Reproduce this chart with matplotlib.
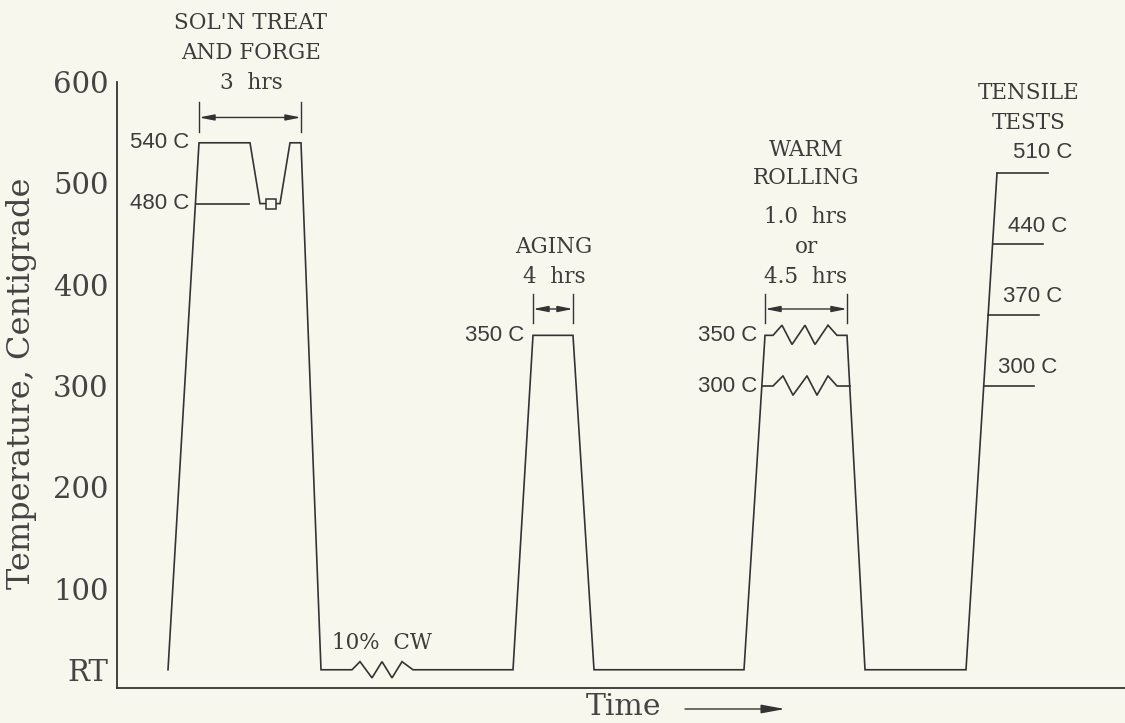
import matplotlib
matplotlib.use("Agg")
import matplotlib.pyplot as plt
from matplotlib.patches import FancyArrowPatch

# ---------------- data (time in arbitrary schematic units, temperature in C) -------------
RT = 20
profile_time = [168, 199, 250, 260, 280, 290, 301, 321, 352, 360, 372, 382, 392, 402, 413,
                513, 533, 573, 594, 744, 765, 773, 782, 792, 805, 815, 828, 837, 847, 865,
                966, 997]
profile_temp = [RT, 540, 540, 480, 480, 540, 540, RT, RT, 28, 12, 28, 12, 28, RT,
                RT, 350, 350, RT, RT, 350, 350, 360, 341, 360, 341, 360, 350, 350, RT,
                RT, 510]

forge_line_time = [196, 249]
forge_line_temp = [480, 480]
forge_marker_time = [271]
forge_marker_temp = [480]

roll300_time = [762, 773, 783, 793, 807, 817, 828, 837, 850]
roll300_temp = [300, 300, 310, 291, 310, 291, 310, 300, 300]

tensile_temps = [510, 440, 370, 300]
tensile_start = [997, 993, 988, 984]
tensile_end = [1048, 1043, 1039, 1034]
tensile_labels = ["510 C", "440 C", "370 C", "300 C"]
tensile_label_x = [1043, 1038, 1033, 1028]
tensile_label_y = [530, 457, 388, 318]

ytick_values = [RT, 100, 200, 300, 400, 500, 600]
ytick_labels = ["RT", "100", "200", "300", "400", "500", "600"]

# dimension arrows: (left, right, y, tick_low, tick_high)
dims = [(199, 301, 565, 551, 580),
        (533, 573, 376, 362, 391),
        (765, 847, 376, 362, 391)]

# ---------------- figure ----------------
BG = "#f7f7ee"
INK = "#333333"
TXT = "#3c3c3c"
W, H = 1125, 723
fig = plt.figure(figsize=(W / 100, H / 100), dpi=100, facecolor=BG)
ax = fig.add_axes([117 / W, 1 - 688 / H, (W - 117) / W, (688 - 82) / H], facecolor=BG)
ax.set_xlim(117, 1125)
ax.set_ylim(2, 600)

lw = 1.2
ax.plot(profile_time, profile_temp, color=INK, lw=lw, solid_joinstyle="miter")
ax.plot(forge_line_time, forge_line_temp, color=INK, lw=lw)
ax.plot(forge_marker_time, forge_marker_temp, marker="s", ms=7, mfc=BG, mec=INK, mew=1.1,
        linestyle="none", zorder=3)
ax.plot(roll300_time, roll300_temp, color=INK, lw=lw)
for t0, t1, temp in zip(tensile_start, tensile_end, tensile_temps):
    ax.plot([t0, t1], [temp, temp], color=INK, lw=lw)

# dimension arrows
for x0, x1, yy, lo, hi in dims:
    ax.plot([x0, x0], [lo, hi], color=INK, lw=1.0)
    ax.plot([x1, x1], [lo, hi], color=INK, lw=1.0)
    ax.annotate("", xy=(x0, yy), xytext=(x1, yy),
                arrowprops=dict(arrowstyle="<|-|>,head_length=0.9,head_width=0.18",
                                color=INK, lw=1.0, shrinkA=0, shrinkB=0),
                annotation_clip=False)

lab = dict(family="DejaVu Serif", fontsize=15.5, color=TXT, ha="center", va="center")
sans = dict(family="Liberation Sans", fontsize=16, color=TXT, va="center")

ax.text(251, 658, "SOL'N TREAT", **lab)
ax.text(251, 628.6, "AND FORGE", **lab)
ax.text(251, 599, "3  hrs", **lab)
ax.text(554, 437, "AGING", **lab)
ax.text(554, 407.6, "4  hrs", **lab)
ax.text(806, 533, "WARM", **lab)
ax.text(806, 505, "ROLLING", **lab)
ax.text(806, 467, "1.0  hrs", **lab)
ax.text(806, 437, "or", **lab)
ax.text(806, 407.6, "4.5  hrs", **lab)
ax.text(1029, 589, "TENSILE", **lab)
ax.text(1029, 559.5, "TESTS", **lab)
ax.text(382, 46, "10%  CW", **lab)

ax.text(189, 540, "540 C", ha="right", **sans)
ax.text(189, 480, "480 C", ha="right", **sans)
ax.text(524, 350, "350 C", ha="right", **sans)
ax.text(757, 350, "350 C", ha="right", **sans)
ax.text(757, 300, "300 C", ha="right", **sans)
for lx, ly, lb in zip(tensile_label_x, tensile_label_y, tensile_labels):
    ax.text(lx, ly, lb, ha="center", **sans)

# axes styling
for s in ["top", "right"]:
    ax.spines[s].set_visible(False)
for s in ["left", "bottom"]:
    ax.spines[s].set_color(INK)
    ax.spines[s].set_linewidth(1.3)
ax.set_xticks([])
ax.set_yticks(ytick_values)
ax.set_yticklabels(ytick_labels, family="DejaVu Serif", fontsize=21, color="#444444")
ax.tick_params(axis="y", length=0, pad=6)

fig.text(22 / W, 1 - 383 / H, "Temperature, Centigrade", rotation=90, ha="center",
         va="center", family="DejaVu Serif", fontsize=23, color="#444444")
fig.text(624 / W, 1 - 707 / H, "Time", ha="center", va="center", family="DejaVu Serif",
         fontsize=21.5, color="#444444")
fig.add_artist(FancyArrowPatch(
    (685 / W, 1 - 709 / H), (785 / W, 1 - 709 / H), transform=fig.transFigure,
    arrowstyle="-|>,head_length=1.2,head_width=0.22", mutation_scale=12,
    color=INK, lw=1.0, shrinkA=0, shrinkB=0))

fig.savefig("out.png", dpi=100, facecolor=BG)
